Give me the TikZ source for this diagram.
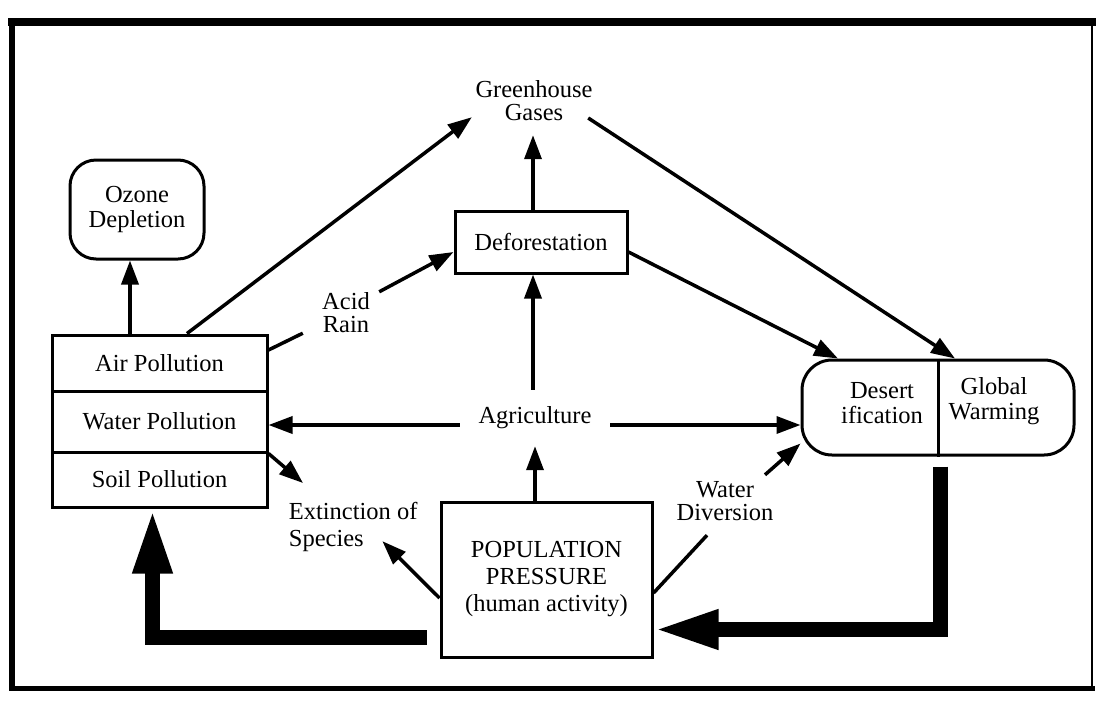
\documentclass[tikz,border=0pt]{standalone}
\usepackage{fontspec}
\setmainfont{Liberation Serif}
\usetikzlibrary{arrows.meta,calc}
\begin{document}
\begin{tikzpicture}[x=1pt,y=-1pt,
  every node/.style={font=\fontsize{24.5}{25}\selectfont, inner sep=0pt, align=center},
  box/.style={draw, line width=3pt},
  conn/.style={line width=3.5pt},
  arr/.style={conn, -{Triangle[length=24pt,width=17pt]}},
  fb/.style={line width=15pt, line join=miter, -{Triangle[length=65pt,width=36pt]}},
  frameline/.style={line cap=rect}
]
\useasboundingbox (0,0) rectangle (1107,702);
% frame
\draw[frameline, line width=8pt] (12,22) -- (1092,22);
\draw[frameline, line width=6pt] (12,22) -- (12,688);
\draw[frameline, line width=5pt] (12,688) -- (1092,688);
\draw[line width=2pt] (1092,22) -- (1092,688);

% nodes
\node[box, rounded corners=26pt, minimum width=134pt, minimum height=99pt] (ozone) at (137,209.5) {Ozone\\Depletion};
\node[box, minimum width=215pt, minimum height=56pt] (air) at (159.5,363) {Air Pollution};
\node[box, minimum width=215pt, minimum height=61pt] (water) at (159.5,421.5) {Water Pollution};
\node[box, minimum width=215pt, minimum height=55pt] (soil) at (159.5,479.5) {Soil Pollution};
\node[minimum width=124pt, minimum height=46pt, font=\fontsize{24.5}{23}\selectfont] (ghg) at (534,101) {Greenhouse\\Gases};
\node[box, minimum width=172pt, minimum height=62pt] (defor) at (541,242) {Deforestation};
\node[minimum width=86pt, minimum height=44pt, font=\fontsize{24.5}{23}\selectfont] (acid) at (346,313) {Acid\\Rain};
\node[minimum width=150pt, minimum height=56pt] (agri) at (535,418) {Agriculture};
\node[box, minimum width=211pt, minimum height=155pt, font=\fontsize{24.5}{27}\selectfont] (pop) at (546.5,579.5) {POPULATION\\PRESSURE\\(human activity)};
\node[anchor=north west, align=left, minimum width=130pt, minimum height=56pt, font=\fontsize{24.5}{27}\selectfont] (ext) at (288,499) {Extinction of\\Species};
\node[minimum width=98pt, minimum height=46pt, font=\fontsize{24.5}{23}\selectfont] (wdiv) at (725,501) {Water\\Diversion};
\node[box, rounded corners=30pt, minimum width=272pt, minimum height=95pt] (dg) at (938,407.5) {};
\node (desert) at (882,403) {Desert\\ification};
\node (warm) at (994,401) {Global\\Warming};
\draw[line width=3pt] (dg.north) -- (dg.south);

% connectors
\draw[arr] ($(air.north)+(-29.5,0)$) -- ($(ozone.south)+(-7,0)$);
\draw[arr] ($(air.north)+(27.5,0)$) -- ($(ghg.south west)+(0,-7)$);
\draw[arr] ($(defor.north)+(-8,0)$) -- ($(ghg.south)+(-1,11)$);
\draw[arr] ($(agri.north)+(-2,0)$) -- ($(defor.south)+(-8,0)$);
\draw[arr] ($(agri.south)+(0,56)$) -- (agri.south);
\draw[arr] ($(agri.west)+(0,7)$) -- ($(water.east)+(0,3.5)$);
\draw[arr] ($(agri.east)+(0,7)$) -- ($(dg.west)+(0,17.5)$);
\draw[conn] ($(air.east)+(0,-13)$) -- ($(acid.south west)+(0,-2)$);
\draw[arr] ($(acid.north east)+(-10,1)$) -- ($(defor.west)+(0,10)$);
\draw[arr] ($(defor.east)+(0,10)$) -- ($(dg.north)+(-100,0)$);
\draw[arr] ($(ghg.east)+(-8,17)$) -- ($(dg.north)+(17,0)$);
\draw[arr] (water.south east) -- ($(ext.north west)+(15,-16)$);
\draw[arr] ($(pop.west)+(0,18.5)$) -- ($(ext.east)+(-36,14)$);
\draw[conn] ($(pop.east)+(0,13.5)$) -- ($(wdiv.south)+(-18,11)$);
\draw[arr] ($(wdiv.north)+(40,-3)$) -- ($(dg.south west)+(0,-13)$);

% feedback
\draw[fb] ($(dg.south)+(2,10)$) |- ($(pop.east)+(0,50)$);
\draw[fb] ($(pop.west)+(-13,58)$) -| ($(soil.south)+(-7,0)$);
\end{tikzpicture}
\end{document}
